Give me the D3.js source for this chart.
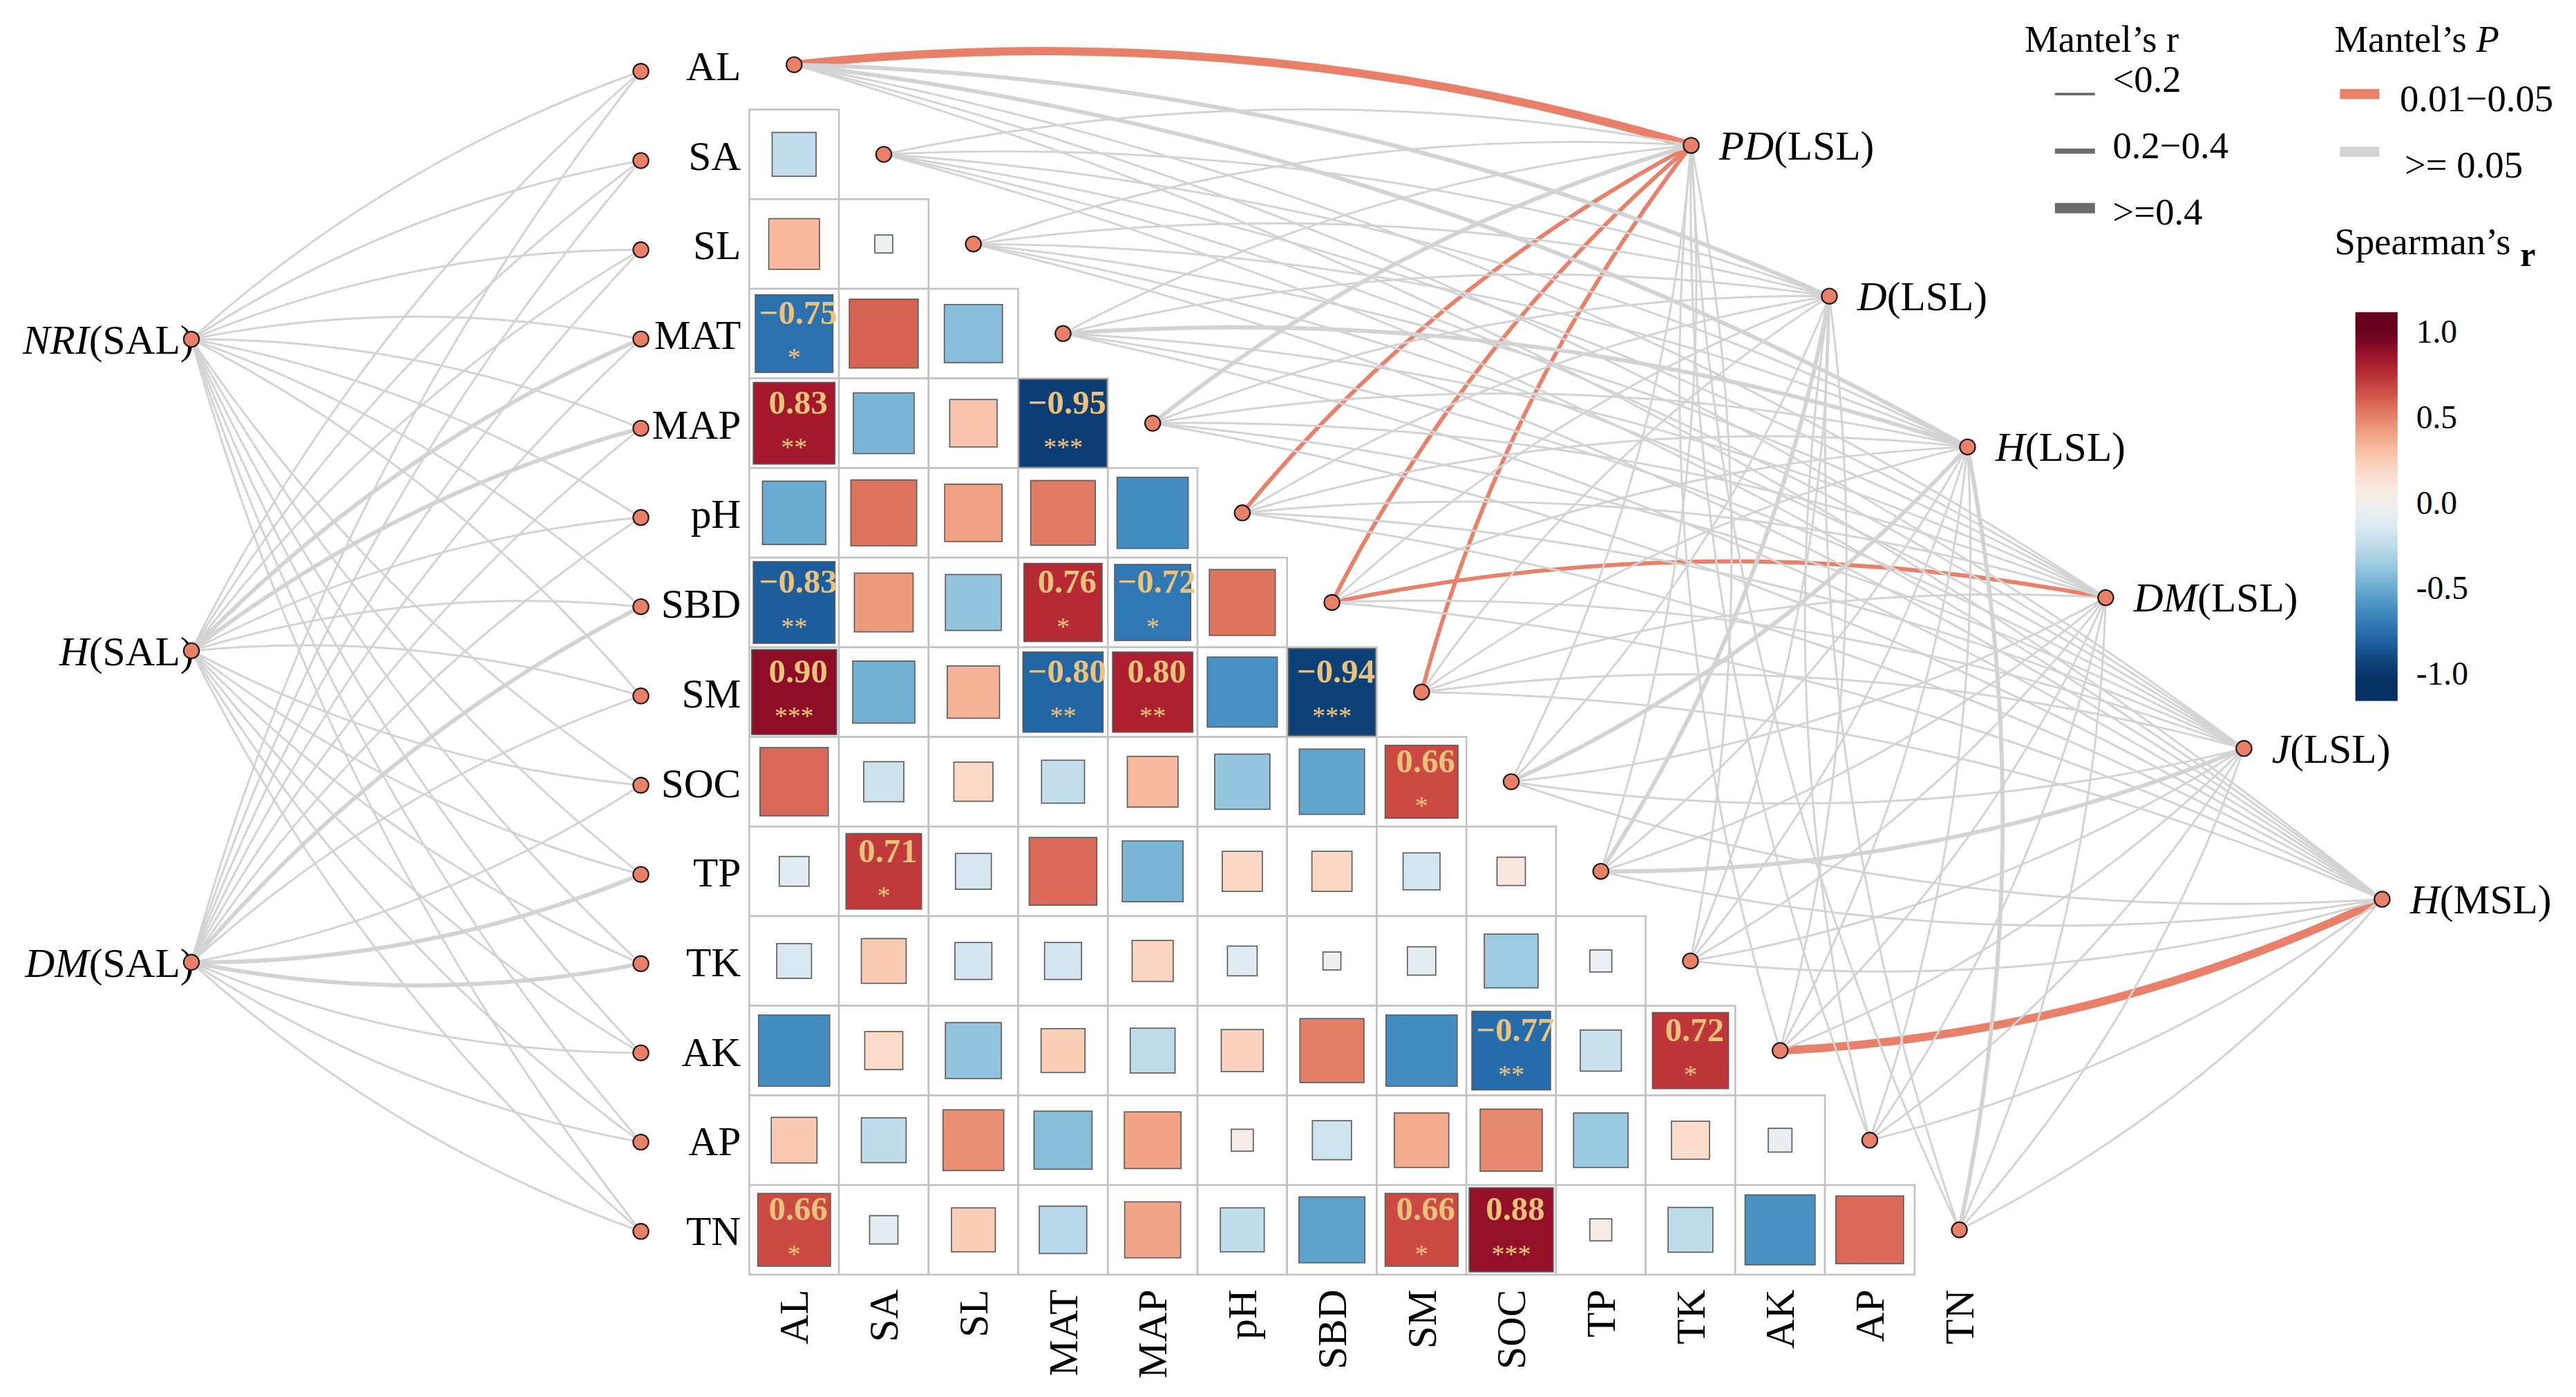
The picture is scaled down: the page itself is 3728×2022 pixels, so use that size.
<!DOCTYPE html>
<html>
<head>
<meta charset="utf-8">
<script src="https://cdn.jsdelivr.net/npm/d3@7"></script>
<style>
  html, body { margin: 0; padding: 0; background: #fff; }
  svg { display: block; }
  text { font-family: "Liberation Serif", "Times New Roman", serif; fill: #000; }
</style>
</head>
<body>
<div id="chart"></div>
<script>
// environmental variables (matrix rows / columns)
const envVars = ["AL", "SA", "SL", "MAT", "MAP", "pH", "SBD", "SM", "SOC", "TP", "TK", "AK", "AP", "TN"];

// Spearman's r, lower triangle, row by row (row i has i values, columns AL..)
const spearmanR = [
  [],
  [-0.24],
  [0.32, -0.04],
  [-0.75, 0.59, -0.42],
  [0.83, -0.46, 0.28, -0.95],
  [-0.50, 0.54, 0.41, 0.52, -0.63],
  [-0.83, 0.43, -0.39, 0.76, -0.72, 0.54],
  [0.90, -0.48, 0.34, -0.80, 0.80, -0.61, -0.94],
  [0.58, -0.20, 0.19, -0.23, 0.32, -0.38, -0.53, 0.66],
  [-0.11, 0.71, -0.16, 0.57, -0.46, 0.20, 0.20, -0.17, 0.10],
  [-0.15, 0.25, -0.17, -0.17, 0.21, -0.11, 0.04, -0.10, -0.36, -0.06],
  [-0.63, 0.18, -0.39, 0.24, -0.25, 0.22, 0.51, -0.63, -0.77, -0.21, 0.72],
  [0.26, -0.25, 0.46, -0.42, 0.40, 0.06, -0.19, 0.37, 0.48, -0.37, 0.18, -0.07],
  [0.66, -0.10, 0.24, -0.28, 0.39, -0.24, -0.54, 0.66, 0.88, 0.06, -0.25, -0.61, 0.57]
];

// significance marks, same layout
const spearmanSig = [
  [],
  [""],
  ["", ""],
  ["*", "", ""],
  ["**", "", "", "***"],
  ["", "", "", "", ""],
  ["**", "", "", "*", "*", ""],
  ["***", "", "", "**", "**", "", "***"],
  ["", "", "", "", "", "", "", "*"],
  ["", "*", "", "", "", "", "", "", ""],
  ["", "", "", "", "", "", "", "", "", ""],
  ["", "", "", "", "", "", "", "", "**", "", "*"],
  ["", "", "", "", "", "", "", "", "", "", "", ""],
  ["*", "", "", "", "", "", "", "*", "***", "", "", "", ""]
];

// species diversity indices
const leftSpecies = ["NRI", "H", "DM"];
const leftGroups = ["(SAL)", "(SAL)", "(SAL)"];
const rightSpecies = ["PD", "D", "H", "DM", "J", "H"];
const rightGroups = ["(LSL)", "(LSL)", "(LSL)", "(LSL)", "(LSL)", "(MSL)"];

// Mantel's r class (0: <0.2, 1: 0.2-0.4, 2: >=0.4), one row per species, columns = envVars
const leftMantelR = [
  [0, 0, 0, 0, 0, 0, 0, 0, 0, 0, 0, 0, 0, 0],
  [0, 0, 0, 1, 1, 0, 0, 0, 0, 0, 0, 0, 0, 0],
  [0, 0, 0, 0, 0, 0, 1, 0, 0, 1, 1, 0, 0, 0]
];
// Mantel's P class (0: >=0.05, 1: 0.01-0.05)
const leftMantelP = [
  [0, 0, 0, 0, 0, 0, 0, 0, 0, 0, 0, 0, 0, 0],
  [0, 0, 0, 0, 0, 0, 0, 0, 0, 0, 0, 0, 0, 0],
  [0, 0, 0, 0, 0, 0, 0, 0, 0, 0, 0, 0, 0, 0]
];
const rightMantelR = [
  [2, 0, 0, 0, 1, 1, 1, 1, 0, 0, 0, 0, 0, 0],
  [1, 0, 0, 0, 0, 0, 0, 0, 0, 1, 0, 0, 0, 0],
  [1, 0, 0, 1, 0, 0, 0, 0, 1, 0, 0, 0, 0, 1],
  [0, 0, 0, 0, 0, 0, 1, 0, 0, 0, 0, 0, 0, 0],
  [0, 0, 0, 0, 0, 0, 0, 0, 0, 1, 0, 0, 0, 0],
  [0, 0, 0, 0, 0, 0, 0, 0, 0, 0, 0, 2, 0, 0]
];
const rightMantelP = [
  [1, 0, 0, 0, 0, 1, 1, 1, 0, 0, 0, 0, 0, 0],
  [0, 0, 0, 0, 0, 0, 0, 0, 0, 0, 0, 0, 0, 0],
  [0, 0, 0, 0, 0, 0, 0, 0, 0, 0, 0, 0, 0, 0],
  [0, 0, 0, 0, 0, 0, 1, 0, 0, 0, 0, 0, 0, 0],
  [0, 0, 0, 0, 0, 0, 0, 0, 0, 0, 0, 0, 0, 0],
  [0, 0, 0, 0, 0, 0, 0, 0, 0, 0, 0, 1, 0, 0]
];

const rClasses = ["<0.2", "0.2\u22120.4", ">=0.4"];
const pClasses = [">= 0.05", "0.01\u22120.05"];
const colorTicks = [1, 0.5, 0, -0.5, -1];

// ---------------------------------------------------------------
const W = 1568, H = 850.4;
const cell = 54.56;

const svg = d3.select("#chart").append("svg")
  .attr("width", 3728).attr("height", 2022)
  .attr("viewBox", `0 0 ${W} ${H}`);

const xBand = d3.scaleBand().domain(envVars).range([456.1, 456.1 + 14 * cell]);
const yBand = d3.scaleBand().domain(envVars).range([12.1, 12.1 + 14 * cell]);
const cx = e => xBand(e) + cell / 2;
const cy = e => yBand(e) + cell / 2;

const yLeftEnv = d3.scalePoint().domain(envVars).range([43.4, 749.6]);
const xLeftEnv = 390.1;

const leftIds = leftSpecies.map((s, i) => s + leftGroups[i]);
const rightIds = rightSpecies.map((s, i) => s + rightGroups[i]);
const yLeftSp = d3.scalePoint().domain(leftIds).range([206.5, 585.8]);
const xLeftSp = 116.5;
const xRightSp = d3.scalePoint().domain(rightIds).range([1029.4, 1450]);
const yRightSp = d3.scalePoint().domain(rightIds).range([88.5, 547.4]);

const side = d3.scaleSqrt().domain([0, 1]).range([0, cell]);
const color = r => d3.interpolateRdBu((1 - Math.max(-1, Math.min(1, r))) / 2);
const widthScale = d3.scaleOrdinal().domain([0, 1, 2]).range([1.25, 2.5, 5.0]);
const linkColor = d3.scaleOrdinal().domain([0, 1]).range(["#d3d3d3", "#e8806a"]);
const fmt = d3.format(".2f");

// ---------- Mantel links ----------
function linkPath(s, t, up) {
  const dx = t[0] - s[0], dy = t[1] - s[1];
  const L = Math.hypot(dx, dy);
  let nx = -dy / L, ny = dx / L;
  if ((up && ny > 0) || (!up && ny < 0)) { nx = -nx; ny = -ny; }
  const k = 0.1 * L;
  const p = d3.path();
  p.moveTo(s[0], s[1]);
  p.quadraticCurveTo((s[0] + t[0]) / 2 + nx * k, (s[1] + t[1]) / 2 + ny * k, t[0], t[1]);
  return p.toString();
}

const links = [];
leftIds.forEach((sp, i) => {
  envVars.forEach((e, j) => {
    links.push({
      s: [xLeftSp, yLeftSp(sp)], t: [xLeftEnv, yLeftEnv(e)],
      up: j <= 7, r: leftMantelR[i][j], p: leftMantelP[i][j]
    });
  });
});
rightIds.forEach((sp, i) => {
  envVars.forEach((e, j) => {
    links.push({
      s: [xRightSp(sp), yRightSp(sp)], t: [cx(e), cy(e)],
      up: j <= 7, r: rightMantelR[i][j], p: rightMantelP[i][j]
    });
  });
});
links.sort((a, b) => (b.p - a.p) || (a.r - b.r));

svg.append("g").attr("fill", "none").attr("stroke-linecap", "butt")
  .selectAll("path").data(links).join("path")
  .attr("d", d => linkPath(d.s, d.t, d.up))
  .attr("stroke", d => linkColor(d.p))
  .attr("stroke-width", d => widthScale(d.r));

// ---------- correlation matrix ----------
const cells = [];
spearmanR.forEach((row, i) => row.forEach((r, j) => {
  cells.push({ row: envVars[i], col: envVars[j], r: r, sig: spearmanSig[i][j] });
}));

const gCells = svg.append("g");
gCells.selectAll("rect.bg").data(cells).join("rect")
  .attr("class", "bg")
  .attr("x", d => xBand(d.col)).attr("y", d => yBand(d.row))
  .attr("width", cell).attr("height", cell)
  .attr("fill", "#fff").attr("stroke", "#c2c2c2").attr("stroke-width", 1.1);

gCells.selectAll("rect.sq").data(cells).join("rect")
  .attr("class", "sq")
  .attr("x", d => cx(d.col) - side(Math.abs(d.r)) / 2)
  .attr("y", d => cy(d.row) - side(Math.abs(d.r)) / 2)
  .attr("width", d => side(Math.abs(d.r)))
  .attr("height", d => side(Math.abs(d.r)))
  .attr("fill", d => color(d.r))
  .attr("stroke", "#5c5c5c").attr("stroke-width", 0.7);

const sigCells = cells.filter(d => d.sig !== "");
gCells.selectAll("text.val").data(sigCells).join("text")
  .attr("class", "val")
  .attr("x", d => cx(d.col) + 2.5).attr("y", d => cy(d.row) - 5.7)
  .attr("text-anchor", "middle")
  .style("font-size", "20.5px").style("font-weight", "bold")
  .style("fill", "#eac27b")
  .text(d => fmt(d.r));

gCells.selectAll("text.star").data(sigCells).join("text")
  .attr("class", "star")
  .attr("x", d => cx(d.col)).attr("y", d => cy(d.row) + 20)
  .attr("text-anchor", "middle")
  .style("font-size", "16px")
  .style("fill", "#eac27b")
  .text(d => d.sig);

// row labels
svg.append("g").selectAll("text").data(envVars).join("text")
  .attr("x", 451).attr("y", d => cy(d) + 9.3)
  .attr("text-anchor", "end")
  .style("font-size", "25px")
  .text(d => d);

// column labels (rotated)
svg.append("g").selectAll("text").data(envVars).join("text")
  .attr("transform", d => `translate(${cx(d) + 8.5},785) rotate(-90)`)
  .attr("text-anchor", "end")
  .style("font-size", "25px")
  .text(d => d);

// ---------- nodes ----------
const nodeData = [];
envVars.forEach(e => {
  nodeData.push([xLeftEnv, yLeftEnv(e)]);
  nodeData.push([cx(e), cy(e)]);
});

// species labels
const gLab = svg.append("g").style("font-size", "25px");
const lLab = gLab.selectAll("text.l").data(leftIds).join("text")
  .attr("class", "l")
  .attr("x", xLeftSp + 1.5).attr("y", d => yLeftSp(d) + 9)
  .attr("text-anchor", "end");
lLab.append("tspan").style("font-style", "italic").text((d, i) => leftSpecies[i]);
lLab.append("tspan").text((d, i) => leftGroups[i]);

const rLab = gLab.selectAll("text.r").data(rightIds).join("text")
  .attr("class", "r")
  .attr("x", d => xRightSp(d) + 17).attr("y", d => yRightSp(d) + 8.5);
rLab.append("tspan").style("font-style", "italic").text((d, i) => rightSpecies[i]);
rLab.append("tspan").text((d, i) => rightGroups[i]);

leftIds.forEach(sp => nodeData.push([xLeftSp, yLeftSp(sp)]));
rightIds.forEach(sp => nodeData.push([xRightSp(sp), yRightSp(sp)]));

svg.append("g").selectAll("circle").data(nodeData).join("circle")
  .attr("cx", d => d[0]).attr("cy", d => d[1]).attr("r", 4.7)
  .attr("fill", "#e8806a").attr("stroke", "#1a1a1a").attr("stroke-width", 0.9);

// ---------- legends ----------
const gLeg = svg.append("g").style("font-size", "23px");

gLeg.append("text").attr("x", 1232.4).attr("y", 31.5).text("Mantel\u2019s r");
const yKeyR = d3.scalePoint().domain(rClasses).range([57.2, 126.7]);
const yKeyRLab = d3.scalePoint().domain(rClasses).range([55.8, 136.6]);
gLeg.selectAll("line.kr").data(rClasses).join("line")
  .attr("class", "kr")
  .attr("x1", 1250.8).attr("x2", 1275.2)
  .attr("y1", d => yKeyR(d)).attr("y2", d => yKeyR(d))
  .attr("stroke", "#6b6b6b")
  .attr("stroke-width", (d, i) => widthScale(i) * 1.25);
gLeg.selectAll("text.kr").data(rClasses).join("text")
  .attr("class", "kr")
  .attr("x", 1286).attr("y", d => yKeyRLab(d))
  .text(d => d);

const tP = gLeg.append("text").attr("x", 1421).attr("y", 31.5);
tP.append("tspan").text("Mantel\u2019s ");
tP.append("tspan").style("font-style", "italic").text("P");
const pOrder = [1, 0];
const yKeyP = d3.scalePoint().domain(pOrder).range([57.2, 92.4]);
const yKeyPLab = d3.scalePoint().domain(pOrder).range([67.6, 107.9]);
gLeg.selectAll("line.kp").data(pOrder).join("line")
  .attr("class", "kp")
  .attr("x1", 1424.3).attr("x2", 1448.3)
  .attr("y1", d => yKeyP(d)).attr("y2", d => yKeyP(d))
  .attr("stroke", d => linkColor(d)).attr("stroke-width", 6.2);
gLeg.selectAll("text.kp").data(pOrder).join("text")
  .attr("class", "kp")
  .attr("x", d => d === 1 ? 1460.7 : 1463.7).attr("y", d => yKeyPLab(d))
  .text(d => pClasses[d]);

const tS = gLeg.append("text").attr("x", 1421).attr("y", 154.9);
tS.append("tspan").text("Spearman\u2019s ");
tS.append("tspan").attr("dy", 7).style("font-weight", "bold").style("font-size", "21px").text("r");

// colour bar
const yBar = d3.scaleLinear().domain([-1, 1]).range([409.8, 201.7]);
const barTop = 190, barBot = 426.7;
const grad = svg.append("defs").append("linearGradient")
  .attr("id", "rdbu").attr("x1", 0).attr("y1", 0).attr("x2", 0).attr("y2", 1);
d3.range(0, 1.0001, 0.05).forEach(f => {
  const v = yBar.invert(barTop + f * (barBot - barTop));
  grad.append("stop").attr("offset", f).attr("stop-color", color(v));
});
gLeg.append("rect")
  .attr("x", 1433.7).attr("y", barTop)
  .attr("width", 25.7).attr("height", barBot - barTop)
  .attr("fill", "url(#rdbu)");
gLeg.selectAll("text.ct").data(colorTicks).join("text")
  .attr("class", "ct")
  .attr("x", 1470.7).attr("y", d => yBar(d))
  .attr("dy", "0.35em")
  .style("font-size", "20px")
  .text(d => d.toFixed(1));
</script>
</body>
</html>
